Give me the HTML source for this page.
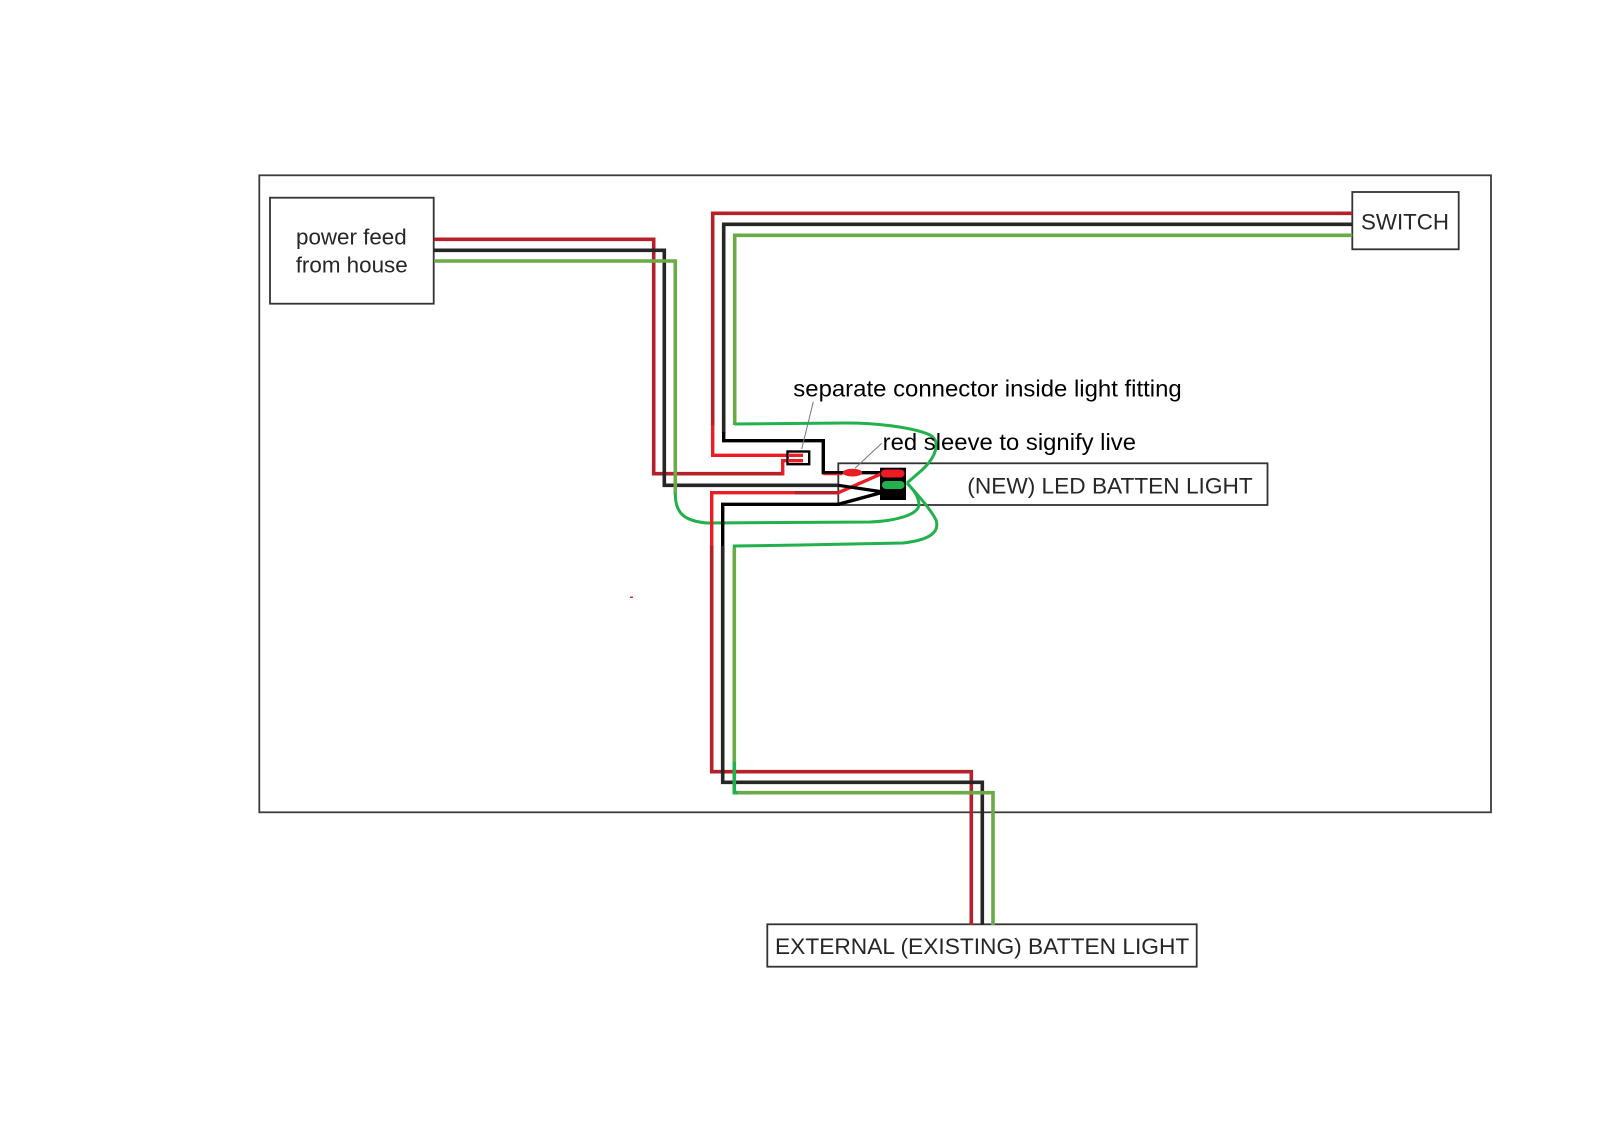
<!DOCTYPE html>
<html>
<head>
<meta charset="utf-8">
<style>
  html, body { margin: 0; padding: 0; background: #fff; }
  body { width: 1600px; height: 1132px; overflow: hidden; }
  svg { display: block; }
  .lbl { font-family: "Liberation Sans", Arial, sans-serif; font-size: 22.5px; fill: #262626; }
  .ann { font-family: "Liberation Sans", Arial, sans-serif; font-size: 23.5px; fill: #000; }
</style>
</head>
<body>
<svg width="1600" height="1132" viewBox="0 0 1600 1132" xmlns="http://www.w3.org/2000/svg">
  <rect x="0" y="0" width="1600" height="1132" fill="#fff"/>

  <!-- outer room rectangle -->
  <rect x="259.3" y="175.3" width="1231.7" height="637" fill="none" stroke="#3c3c3c" stroke-width="1.8"/>

  <!-- boxes -->
  <rect x="270" y="197.7" width="163.7" height="106" fill="#fff" stroke="#333" stroke-width="1.8"/>
  <rect x="1352.3" y="192" width="106.4" height="57.3" fill="#fff" stroke="#333" stroke-width="1.8"/>
  <rect x="838.3" y="463.3" width="429.2" height="41.7" fill="#fff" stroke="#333" stroke-width="1.8"/>
  <rect x="767.3" y="924.3" width="429.4" height="42.4" fill="#fff" stroke="#333" stroke-width="1.8"/>

  <g fill="none" stroke-linejoin="miter" stroke-linecap="butt">
    <!-- POWER FEED wires -->
    <path d="M434 239.3 H653.7 V473.7 H782.7" stroke="#b5202a" stroke-width="3.6"/>
    <path d="M782.7 475.5 V460.7 H803" stroke="#ed1c24" stroke-width="3.4"/>
    <path d="M434 250.3 H664.3 V485.3 H838.3" stroke="#262626" stroke-width="3.6"/>
    <path d="M434 261 H675.3 V494" stroke="#6aaa47" stroke-width="3.6"/>
    <path d="M675.3 493 C675 512, 683 521, 707 523 L870 522 C895 521, 918 515, 919 505 C919 496, 912 488, 907 483" stroke="#22b14c" stroke-width="3"/>

    <!-- SWITCH wires -->
    <path d="M1352.3 213.3 H712.7 V426" stroke="#b5202a" stroke-width="3.6"/>
    <path d="M712.7 425 V455.3 H803" stroke="#ed1c24" stroke-width="3.4"/>
    <path d="M1352.3 224.3 H723.7 V433" stroke="#262626" stroke-width="3.6"/>
    <path d="M723.7 432 V440.7 H823.3 V472.7 H880" stroke="#000" stroke-width="3.4"/>
    <path d="M1352.3 235.3 H734.7 V425" stroke="#6aaa47" stroke-width="3.6"/>
    <path d="M734.7 424 L846 423 C880 423, 915 428, 930 435 C942 442, 935 458, 922 470 L907 483" stroke="#22b14c" stroke-width="3"/>
    <path d="M823.3 474.5 H842" stroke="#ed1c24" stroke-width="1.6"/>

    <!-- EXTERNAL wires -->
    <path d="M881 474 L838.3 492.7 H711.7 V548" stroke="#ed1c24" stroke-width="3.4"/>
    <path d="M795 492.7 H838.3" stroke="#b5202a" stroke-width="3.4"/>
    <path d="M711.7 546 V771.7 H971.3 V925" stroke="#b5202a" stroke-width="3.6"/>
    <path d="M880 493 L838.3 504.3 H722.7 V548" stroke="#000" stroke-width="3.4"/>
    <path d="M722.7 546 V782.3 H982.3 V925" stroke="#262626" stroke-width="3.6"/>
    <path d="M907 483 C915 492, 930 508, 936 520 C940 532, 930 540, 903 543 L800 545 L734.3 546 V549" stroke="#22b14c" stroke-width="3"/>
    <path d="M734.3 548 V762" stroke="#6aaa47" stroke-width="3.6"/>
    <path d="M734.3 762 V792.7 H740" stroke="#22b14c" stroke-width="3.6"/>
    <path d="M738 792.7 H993 V925" stroke="#6aaa47" stroke-width="3.6"/>

    <!-- power black diagonal into terminal -->
    <path d="M838.3 485.3 L880 491.5" stroke="#000" stroke-width="3.2"/>

    <!-- leader lines -->
    <path d="M813.3 401.7 L801.7 449" stroke="#777" stroke-width="1"/>
    <path d="M881.7 443.3 L855 468.3" stroke="#777" stroke-width="1"/>
  </g>

  <!-- separate connector -->
  <rect x="787.5" y="451.5" width="21.7" height="12.7" fill="none" stroke="#000" stroke-width="2.4"/>
  <path d="M788 455.3 H803 M788 460.7 H803" stroke="#ed1c24" stroke-width="2.6" fill="none"/>

  <!-- red sleeve -->
  <ellipse cx="852.5" cy="472.6" rx="9.8" ry="3.9" fill="#ed1c24"/>

  <!-- terminal block -->
  <rect x="880" y="467.7" width="26" height="32.3" fill="#000"/>
  <rect x="881" y="469.5" width="23.5" height="8" rx="4" fill="#ed1c24"/>
  <rect x="882" y="481" width="22.5" height="8" rx="4" fill="#22b14c"/>

  <!-- tiny mark -->
  <rect x="630" y="596.6" width="3" height="1.2" fill="#c00"/>

  <!-- labels -->
  <text class="lbl" x="296" y="244.5" textLength="110.7" lengthAdjust="spacingAndGlyphs">power feed</text>
  <text class="lbl" x="295.7" y="272.7" textLength="112" lengthAdjust="spacingAndGlyphs">from house</text>
  <text class="lbl" x="1361" y="229.3" textLength="88" lengthAdjust="spacingAndGlyphs">SWITCH</text>
  <text class="lbl" x="967.3" y="493.3" textLength="285.4" lengthAdjust="spacingAndGlyphs">(NEW) LED BATTEN LIGHT</text>
  <text class="lbl" x="775" y="954" textLength="414.3" lengthAdjust="spacingAndGlyphs">EXTERNAL (EXISTING) BATTEN LIGHT</text>
  <text class="ann" x="793.3" y="396.7" textLength="388.4" lengthAdjust="spacingAndGlyphs">separate connector inside light fitting</text>
  <text class="ann" x="882.7" y="450" textLength="253.3" lengthAdjust="spacingAndGlyphs">red sleeve to signify live</text>
</svg>
</body>
</html>
